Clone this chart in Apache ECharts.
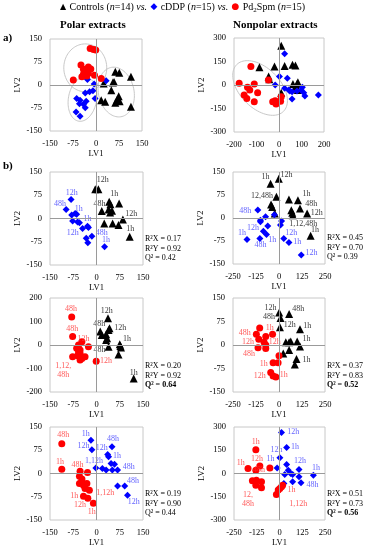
<!DOCTYPE html>
<html><head><meta charset="utf-8">
<script src="https://cdn.jsdelivr.net/npm/echarts@6/dist/echarts.min.js"></script>
<style>html,body{margin:0;padding:0;background:#fff}#c{width:365px;height:550px}</style>
</head><body><div id="c"></div>
<script>
// ---------- DATA ----------
// a) PLS-DA, polar
const aPolCtrl = [[63,43],[76,40],[114,27],[55,8],[25,5],[59,10],[50,-17],[74,-37],[68,-50],[63,-58],[17,-50],[30,-55],[114,-71],[77,-53]];
const aPolCddp = [[-28,18],[-6,3],[33,14],[-35,-26],[-21,-22],[-10,-19],[-3,-44],[-63,-44],[-52,-50],[-32,-53],[-54,-61],[-41,-63],[-35,-74],[-65,-88],[-52,-102]];
const aPolPd = [[-19,119],[-8,116],[-1,114],[-49,65],[-25,59],[-41,51],[-17,52],[-35,43],[-25,38],[-46,27],[-30,29],[-5,32],[-74,16],[17,21],[-41,35]];
// ellipses: centre x, centre y, semi-axis (x units), semi-axis (y units), tilt (deg)
const aPolEll = [[-35,56,70,78,0],[-44,-46,46,73,10],[66,-23,58,82,-12]];
// a) nonpolar
const aNonCtrl = [[10,251],[-87,114],[-20,118],[25,122],[60,129],[73,125],[-46,54],[-43,36],[62,6],[80,6],[84,17],[70,-21],[84,-32],[10,-49]];
const aNonCddp = [[25,199],[2,54],[37,43],[-17,0],[25,-21],[43,-32],[58,-43],[48,-38],[104,-15],[110,-49],[115,-71],[58,-90],[175,-64],[80,-39],[98,-32]];
const aNonPd = [[-125,118],[-177,11],[-140,-15],[-110,6],[-130,-32],[-95,-49],[-155,-64],[-143,-86],[-110,-107],[-47,32],[-28,-107],[-17,-101],[-13,-122],[10,-75],[7,-103]];
const aNonEll = [[-84,-19,147,128,45]];
// b1) Controls vs cDDP
const b1PolCtrl = [[-4,94],[6,94],[41,54],[45,46],[73,48],[39,29],[50,25],[44,19],[17,24],[25,-16],[52,-16],[71,-21],[85,-3],[107,-59]];
const b1PolCddp = [[-82,61],[-98,29],[-80,11],[-69,16],[-64,14],[-77,-8],[-61,-11],[-55,-14],[-45,-32],[-29,-25],[-26,-29],[-33,-64],[-28,-78],[-15,-57],[26,-91]];
const b1PolCtrlLbl = [[20,123,'12h'],[57,80,'1h'],[10,48,'48h'],[112,16,'12h'],[109,-35,'1h']];
const b1PolCddpLbl = [[-80,84,'12h'],[-118,48,'48h'],[-57,32,'1h'],[-29,0,'1h'],[-77,-48,'12h'],[17,-45,'48h'],[31,-70,'1h']];
const b1NonCtrl = [[-46,112],[-1,128],[-14,69],[-43,44],[-37,36],[-23,15],[54,60],[103,58],[114,31],[67,25],[72,17],[75,9],[153,15],[172,-58]];
const b1NonCddp = [[-115,26],[-101,-7],[-101,-12],[-73,4],[-61,-26],[-25,11],[14,-10],[8,-23],[-85,-43],[-68,-54],[-104,-67],[-174,-70],[26,-67],[54,-80],[121,-121]];
const b1NonCtrlLbl = [[-74,134,'1h'],[41,139,'12h'],[-92,71,'12,48h'],[150,80,'1h'],[175,45,'48h'],[205,18,'12h'],[132,-18,'1,12,48h'],[195,-40,'1h']];
const b1NonCddpLbl = [[-183,22,'48h'],[-141,-32,'12h'],[-201,-50,'1h'],[-101,-88,'48h'],[-37,-70,'1h'],[66,-50,'12h'],[99,-77,'1h'],[177,-115,'12h']];
// b2) Controls vs Pd2Spm
const b2PolCtrl = [[37,114],[12,57],[17,43],[39,64],[42,71],[31,46],[34,29],[31,21],[39,-7],[75,3],[79,-11],[71,-40],[77,-4],[120,-143]];
const b2PolPd = [[-80,119],[-77,36],[-47,14],[-26,-7],[-58,0],[-64,-14],[-53,-21],[-58,-29],[-77,-50],[-61,-46],[-47,-57],[-37,-50],[-53,-64],[-53,-36],[-1,-69]];
const b2PolCtrlLbl = [[33,143,'12h'],[9,89,'48h'],[77,71,'12h'],[98,26,'1h'],[10,-21,'48h'],[120,-117,'1h']];
const b2PolPdLbl = [[-82,153,'48h'],[-78,67,'48h'],[-42,24,'12h'],[-107,-106,'1,12,\n48h'],[31,-69,'12h']];
const b2NonCtrl = [[1,104],[8,86],[55,99],[5,57],[114,50],[37,9],[55,9],[64,11],[99,11],[114,-5],[55,-16],[23,-27],[95,-45],[86,-62]];
const b2NonPd = [[-105,54],[-123,34],[-110,18],[-72,27],[-35,34],[-81,9],[-72,0],[-114,-9],[-72,-11],[0,-34],[-32,-57],[-5,-57],[-45,-88],[-32,-99],[-17,-102]];
const b2NonCtrlLbl = [[-46,118,'12h'],[-54,89,'48h'],[105,115,'48h'],[59,64,'12h'],[154,62,'1h'],[150,19,'1h'],[150,-48,'1h']];
const b2NonPdLbl = [[-186,38,'48h'],[-50,56,'1h'],[-168,11,'12h'],[-23,9,'12h'],[-163,-30,'48h'],[-83,-59,'1h'],[-105,-99,'12h'],[26,-96,'1h']];
// b3) cDDP vs Pd2Spm
const b3PolCddp = [[-18,107],[-15,77],[50,86],[36,61],[39,54],[58,30],[47,32],[-2,18],[19,16],[31,11],[51,11],[68,11],[68,-40],[91,-40],[100,-70]];
const b3PolPd = [[-112,96],[-112,14],[-53,7],[-29,3],[-55,-9],[-47,-18],[-55,-32],[-42,-38],[-31,-32],[-37,-48],[-23,-54],[-42,-73],[-28,-80],[-10,-96],[-47,-27]];
const b3PolCddpLbl = [[-35,129,'1h'],[-42,89,'12h'],[17,84,'12h'],[53,110,'48h'],[66,57,'1h'],[-8,41,'1,12h'],[104,21,'48h'],[118,-25,'48h'],[120,-93,'12h']];
const b3PolPdLbl = [[-107,123,'48h'],[-118,38,'1h'],[-61,29,'48h'],[-72,-73,'1h'],[-53,-100,'12h'],[-15,-123,'1h'],[28,-64,'1,12h']];
const b3NonCddp = [[11,264],[39,167],[2,101],[-13,36],[39,58],[29,-6],[48,21],[61,0],[72,-6],[107,26],[107,-21],[118,-60],[72,-54],[186,-11],[24,-64]];
const b3NonPd = [[-130,154],[-173,32],[-130,21],[-108,49],[-53,36],[-149,-47],[-127,-43],[-99,-54],[-130,-75],[-99,-92],[-17,-135],[-7,-107],[11,-86],[2,-96],[17,-75]];
const b3NonCddpLbl = [[75,268,'12h'],[85,171,'1h'],[-17,154,'12h'],[-50,96,'1h'],[112,79,'12h'],[200,36,'1h'],[182,-75,'48h']];
const b3NonPdLbl = [[-130,203,'1h'],[-213,71,'1h'],[-123,96,'12h'],[-112,26,'48h'],[-173,-165,'12,\n48h'],[66,-107,'1h'],[103,-193,'1,12h']];
// model statistics
const statsB1Pol = ['0.17','0.92','0.42'];
const statsB1Non = ['0.45','0.70','0.39'];
const statsB2Pol = ['0.20','0.92','0.64'];
const statsB2Non = ['0.37','0.83','0.52'];
const statsB3Pol = ['0.19','0.90','0.44'];
const statsB3Non = ['0.51','0.73','0.56'];
const boldQ = [false,false,true,true,false,true];

// ---------- STYLE / LAYOUT ----------
const FONT = '"Liberation Serif", "DejaVu Serif", serif';
const COL = {ctrl:'#000000', cddp:'#0000ff', pd:'#ff0000'};
const LBLCOL = {ctrl:'#000000', cddp:'#3a3aff', pd:'#ff3030'};
const SYM = {ctrl:['triangle',8], cddp:['diamond',7], pd:['circle',7]};

const plots = [
  {rect:[50,39,92,92], x:[-150,150,75], y:[-150,150,75], pts:[['ctrl',aPolCtrl],['cddp',aPolCddp],['pd',aPolPd]], ell:aPolEll},
  {rect:[234,38,90,94], x:[-200,200,100], y:[-300,300,150], pts:[['ctrl',aNonCtrl],['cddp',aNonCddp],['pd',aNonPd]], ell:aNonEll},
  {rect:[50,172,93,93], x:[-150,150,75], y:[-150,150,75], pts:[['ctrl',b1PolCtrl],['cddp',b1PolCddp]], lbl:[['ctrl',b1PolCtrlLbl],['cddp',b1PolCddpLbl]], st:statsB1Pol},
  {rect:[233,172,92,92], x:[-250,250,125], y:[-150,150,75], pts:[['ctrl',b1NonCtrl],['cddp',b1NonCddp]], lbl:[['ctrl',b1NonCtrlLbl],['cddp',b1NonCddpLbl]], st:statsB1Non},
  {rect:[50,298,93,94], x:[-150,150,75], y:[-200,200,100], pts:[['ctrl',b2PolCtrl],['pd',b2PolPd]], lbl:[['ctrl',b2PolCtrlLbl],['pd',b2PolPdLbl]], st:statsB2Pol},
  {rect:[233,298,92,94], x:[-250,250,125], y:[-150,150,75], pts:[['ctrl',b2NonCtrl],['pd',b2NonPd]], lbl:[['ctrl',b2NonCtrlLbl],['pd',b2NonPdLbl]], st:statsB2Non},
  {rect:[50,427,93,93], x:[-150,150,75], y:[-150,150,75], pts:[['cddp',b3PolCddp],['pd',b3PolPd]], lbl:[['cddp',b3PolCddpLbl],['pd',b3PolPdLbl]], st:statsB3Pol},
  {rect:[234,427,91,93], x:[-250,250,125], y:[-300,300,150], pts:[['cddp',b3NonCddp],['pd',b3NonPd]], lbl:[['cddp',b3NonCddpLbl],['pd',b3NonPdLbl]], st:statsB3Non}
];

const grid=[], xAxis=[], yAxis=[], series=[], graphic=[];
plots.forEach((p,i)=>{
  const [l,t,w,h]=p.rect;
  grid.push({left:l, top:t, width:w, height:h, show:true, borderColor:'#c8c8c8', borderWidth:1, containLabel:false});
  const axLbl = {fontFamily:FONT, fontSize:8.5, color:'#000'};
  xAxis.push({type:'value', gridIndex:i, min:p.x[0], max:p.x[1], interval:p.x[2],
    axisLine:{show:false}, axisTick:{show:false}, splitLine:{show:false},
    axisLabel:Object.assign({margin:8}, axLbl),
    name:'LV1', nameLocation:'middle', nameGap:18, nameTextStyle:{fontFamily:FONT, fontSize:8.5, color:'#000'}});
  yAxis.push({type:'value', gridIndex:i, min:p.y[0], max:p.y[1], interval:p.y[2],
    axisLine:{show:false}, axisTick:{show:false}, splitLine:{show:false},
    axisLabel:Object.assign({margin:8}, axLbl),
    name:'LV2', nameLocation:'middle', nameGap: i%2 ? 23 : 19, nameTextStyle:{fontFamily:FONT, fontSize:8.5, color:'#000'}});
  // zero lines
  series.push({type:'line', xAxisIndex:i, yAxisIndex:i, data:[], silent:true,
    markLine:{silent:true, symbol:'none', animation:false, label:{show:false},
      lineStyle:{color:'#9a9a9a', width:1, type:'solid'}, data:[{xAxis:0},{yAxis:0}]}});
  if (p.ell) {
    series.push({type:'custom', xAxisIndex:i, yAxisIndex:i, data:p.ell, silent:true, clip:false, z:1,
      renderItem:(params, api)=>{
        const c = api.coord([api.value(0), api.value(1)]);
        const sz = api.size([api.value(2), api.value(3)]);
        const a = api.value(4)*Math.PI/180;
        const pts=[];
        for(let k=0;k<=90;k++){
          const tt=k/90*2*Math.PI;
          const ex=sz[0]*Math.cos(tt), ey=sz[1]*Math.sin(tt);
          pts.push([c[0]+ex*Math.cos(a)-ey*Math.sin(a), c[1]+ex*Math.sin(a)+ey*Math.cos(a)]);
        }
        return {type:'polyline', shape:{points:pts}, style:{stroke:'#c8c8c8', fill:null, lineWidth:1}};
      }});
  }
  p.pts.forEach(([g,d])=>{
    series.push({type:'scatter', xAxisIndex:i, yAxisIndex:i, data:d, symbol:SYM[g][0], symbolSize:SYM[g][1],
      itemStyle:{color:COL[g], opacity:1}, z:3, silent:true});
  });
  (p.lbl||[]).forEach(([g,d])=>{
    series.push({type:'scatter', xAxisIndex:i, yAxisIndex:i, data:d, symbolSize:0, z:4, silent:true, clip:false,
      label:{show:true, position:'inside', formatter:q=>q.data[2], fontFamily:FONT, fontSize:8, lineHeight:9,
        color:LBLCOL[g]}});
  });
  if (p.st) {
    const bq = boldQ[i-2];
    graphic.push({type:'text', left:l+w+2, top:t+h-30, style:{
      text:'{n|R²X = '+p.st[0]+'}\n{n|R²Y = '+p.st[1]+'}\n{'+(bq?'b':'n')+'|Q² = '+p.st[2]+'}',
      rich:{n:{fontFamily:FONT, fontSize:8, lineHeight:9.6, fill:'#000'}, b:{fontFamily:FONT, fontSize:8, fontWeight:'bold', lineHeight:9.6, fill:'#000'}}
    }});
  }
});

graphic.push({type:'text', left:'center', top:1, style:{
  text:'{k|▲} {t|Controls (}{i|n}{t|=14) }{i|vs.} {bl|◆} {t|cDDP (}{i|n}{t|=15) }{i|vs.} {rd|●} {t|Pd}{s|2}{t|Spm (}{i|n}{t|=15)}',
  rich:{
    t:{fontFamily:FONT, fontSize:10, fill:'#000', lineHeight:13, verticalAlign:'middle'},
    i:{fontFamily:FONT, fontSize:10, fontStyle:'italic', fill:'#000', lineHeight:13, verticalAlign:'middle'},
    s:{fontFamily:FONT, fontSize:7, fill:'#000', lineHeight:13, verticalAlign:'bottom'},
    k:{fontFamily:'DejaVu Sans', fontSize:8, fill:'#000', lineHeight:13},
    bl:{fontFamily:'DejaVu Sans', fontSize:9, fill:'#0000ff', lineHeight:13},
    rd:{fontFamily:'DejaVu Sans', fontSize:9, fill:'#ff0000', lineHeight:13}
  }}});
graphic.push({type:'text', left:96-36, top:20, style:{text:'Polar extracts', fontFamily:FONT, fontSize:11, fontWeight:'bold', fill:'#000'}});
graphic.push({type:'text', left:279-46, top:20, style:{text:'Nonpolar extracts', fontFamily:FONT, fontSize:11, fontWeight:'bold', fill:'#000'}});
graphic.push({type:'text', left:3, top:33, style:{text:'a)', fontFamily:FONT, fontSize:11, fontWeight:'bold', fill:'#000'}});
graphic.push({type:'text', left:3, top:161, style:{text:'b)', fontFamily:FONT, fontSize:11, fontWeight:'bold', fill:'#000'}});

const chart = echarts.init(document.getElementById('c'), null, {renderer:'canvas'});
chart.setOption({animation:false, backgroundColor:'#fff', grid, xAxis, yAxis, series, graphic});
</script></body></html>
